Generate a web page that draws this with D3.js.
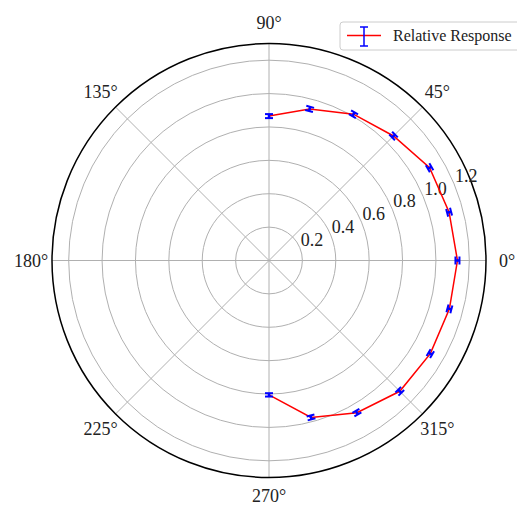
<!DOCTYPE html>
<html>
<head>
<meta charset="utf-8">
<script src="https://cdn.jsdelivr.net/npm/d3@7"></script>
<style>
  html, body { margin: 0; padding: 0; background: #fff; }
  svg text { font-family: "Liberation Serif", "Times New Roman", serif; fill: #222; }
</style>
</head>
<body>
<svg id="chart" width="517" height="506"></svg>
<script>
// ---- data ----
const angles    = [90, 75, 60, 45, 30, 15, 0, -15, -30, -45, -60, -75, -90];
const response  = [0.865, 0.94, 1.012, 1.055, 1.111, 1.117, 1.129, 1.119, 1.116, 1.108, 1.053, 0.973, 0.805];
const errors    = [0.012, 0.013, 0.013, 0.012, 0.012, 0.012, 0.012, 0.012, 0.012, 0.013, 0.012, 0.012, 0.01];
const rTicks    = [0.2, 0.4, 0.6, 0.8, 1.0, 1.2];
const thetaTicks = [0, 45, 90, 135, 180, 225, 270, 315];
const seriesName = 'Relative Response';

const W = 517, H = 506;
const cx = 269, cy = 260.5, R = 217;
const svg = d3.select('#chart');

const r = d3.scaleLinear().domain([0, 1.3]).range([0, R]);
const rad = d => d * Math.PI / 180;
// polar -> screen (0° at right, counter-clockwise)
const px = (deg, v) => cx + r(v) * Math.cos(rad(deg));
const py = (deg, v) => cy - r(v) * Math.sin(rad(deg));

const g = svg.append('g');

// grid rings
g.selectAll('circle.ring')
  .data(rTicks)
  .join('circle')
    .attr('class', 'ring')
    .attr('cx', cx).attr('cy', cy)
    .attr('r', d => r(d))
    .attr('fill', 'none')
    .attr('stroke', '#b0b0b0')
    .attr('stroke-width', 1);

// spokes
g.selectAll('line.spoke')
  .data(thetaTicks)
  .join('line')
    .attr('class', 'spoke')
    .attr('x1', cx).attr('y1', cy)
    .attr('x2', d => px(d, 1.3)).attr('y2', d => py(d, 1.3))
    .attr('stroke', '#b0b0b0')
    .attr('stroke-width', 1);

// outer frame
g.append('circle')
  .attr('cx', cx).attr('cy', cy).attr('r', R)
  .attr('fill', 'none')
  .attr('stroke', '#000')
  .attr('stroke-width', 1.5);

// radial tick labels along 22.5°
g.selectAll('text.rlab')
  .data(rTicks)
  .join('text')
    .attr('class', 'rlab')
    .attr('x', d => px(22.5, d) + 1)
    .attr('y', d => py(22.5, d) - 2)
    .attr('font-size', 18)
    .text(d => d.toFixed(1));

// angular tick labels (baseline kept inside the page at the bottom)
g.selectAll('text.tlab')
  .data(thetaTicks)
  .join('text')
    .attr('class', 'tlab')
    .attr('x', d => cx + (R + 21) * Math.cos(rad(d)))
    .attr('y', d => Math.min(H - 4, cy - (R + 21) * Math.sin(rad(d)) + 6))
    .attr('text-anchor', 'middle')
    .attr('font-size', 18)
    .text(d => d + '°');

// series line
const pts = angles.map((a, i) => ({ a, v: response[i], e: errors[i] }));
const line = d3.line().x(d => px(d.a, d.v)).y(d => py(d.a, d.v));
g.append('path')
  .datum(pts)
  .attr('d', line)
  .attr('fill', 'none')
  .attr('stroke', '#ff0000')
  .attr('stroke-width', 1.5);

// radial error bars with caps
const cap = 4;
const eb = g.append('g').attr('class', 'errorbars');
pts.forEach(d => {
  const c = Math.cos(rad(d.a)), s = Math.sin(rad(d.a));
  const x1 = px(d.a, d.v - d.e), y1 = py(d.a, d.v - d.e);
  const x2 = px(d.a, d.v + d.e), y2 = py(d.a, d.v + d.e);
  eb.append('line')
    .attr('x1', x1).attr('y1', y1).attr('x2', x2).attr('y2', y2)
    .attr('stroke', '#0000ff').attr('stroke-width', 2.5);
  // caps perpendicular to radius
  [[x1, y1], [x2, y2]].forEach(([x, y]) => {
    eb.append('line')
      .attr('x1', x - cap * s).attr('y1', y - cap * c)
      .attr('x2', x + cap * s).attr('y2', y + cap * c)
      .attr('stroke', '#0000ff').attr('stroke-width', 2);
  });
});

// legend
const lg = svg.append('g').attr('transform', 'translate(340,22)');
lg.append('rect')
  .attr('width', 190).attr('height', 28)
  .attr('rx', 3)
  .attr('fill', '#fff')
  .attr('stroke', '#cccccc');
lg.append('line')
  .attr('x1', 7).attr('x2', 41).attr('y1', 13.5).attr('y2', 13.5)
  .attr('stroke', '#ff0000').attr('stroke-width', 1.5);
lg.append('line')
  .attr('x1', 24).attr('x2', 24).attr('y1', 5).attr('y2', 24)
  .attr('stroke', '#0000ff').attr('stroke-width', 1.5);
[5, 24].forEach(y => {
  lg.append('line')
    .attr('x1', 20).attr('x2', 28).attr('y1', y).attr('y2', y)
    .attr('stroke', '#0000ff').attr('stroke-width', 1.5);
});
lg.append('text')
  .attr('x', 53).attr('y', 19)
  .attr('font-size', 16)
  .text(seriesName);
</script>
</body>
</html>
